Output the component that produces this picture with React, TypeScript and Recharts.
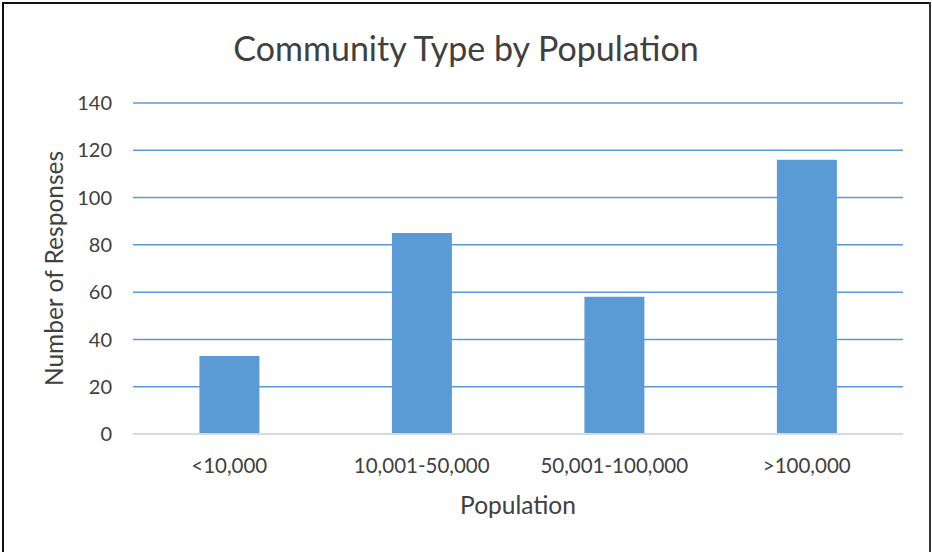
import React from "react";
import { BarChart, Bar, XAxis, YAxis, CartesianGrid, Label } from "recharts";

const categories = ["<10,000", "10,001-50,000", "50,001-100,000", ">100,000"];
const responses = [33, 85, 58, 116];
const yTicks = [0, 20, 40, 60, 80, 100, 120, 140];

const data = categories.map((c, i) => ({ category: c, value: responses[i] }));

const FONT = "Lato, 'Open Sans', sans-serif";
const TEXT = "#404040";
const BLUE = "#5B9BD5";

export default function App() {
  return (
    <div style={{ position: "absolute", left: 0, top: 0, width: 932, height: 552, background: "#fff", fontFamily: FONT }}>
      <div style={{ position: "absolute", left: 2, top: 2, width: 2, height: 550, background: "#111" }} />
      <div style={{ position: "absolute", left: 2, top: 2, width: 929, height: 2, background: "#111" }} />
      <div style={{ position: "absolute", left: 929, top: 2, width: 2, height: 550, background: "#333" }} />
      <div style={{ position: "absolute", left: 0, top: 26, width: 932, textAlign: "center", fontSize: 34, lineHeight: "44px", color: TEXT, fontFamily: FONT }}>
        Community Type by Population
      </div>
      <div style={{ position: "absolute", left: 0, top: 0 }}>
        <BarChart width={932} height={552} data={data} margin={{ top: 103, right: 29, bottom: 28, left: 0 }} barCategoryGap="34.5%">
          <CartesianGrid vertical={false} stroke={BLUE} strokeWidth={1.5} />
          <XAxis
            dataKey="category"
            height={90}
            tickLine={false}
            axisLine={{ stroke: "#D9D9D9", strokeWidth: 2 }}
            tickSize={0}
            tickMargin={24}
            tick={{ fill: TEXT, fontSize: 20.5, fontFamily: FONT }}
          >
            <Label value="Population" position="insideBottom" offset={10} style={{ fill: TEXT, fontSize: 24.5, fontFamily: FONT }} />
          </XAxis>
          <YAxis
            width={133}
            domain={[0, 140]}
            ticks={yTicks}
            interval={0}
            tickLine={false}
            axisLine={false}
            tickSize={0}
            tickMargin={21}
            tick={{ fill: TEXT, fontSize: 20, fontFamily: FONT }}
          >
            <Label value="Number of Responses" angle={-90} position="insideLeft" offset={54} style={{ fill: TEXT, fontSize: 24.5, fontFamily: FONT, textAnchor: "middle" }} />
          </YAxis>
          <Bar dataKey="value" fill={BLUE} isAnimationActive={false} />
        </BarChart>
      </div>
    </div>
  );
}
